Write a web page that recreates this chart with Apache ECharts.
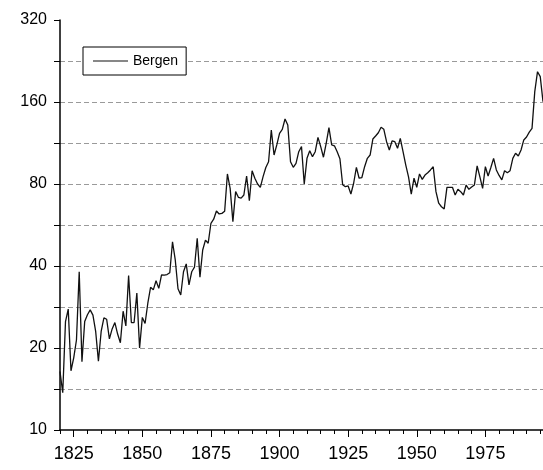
<!DOCTYPE html>
<html>
<head>
<meta charset="utf-8">
<title>Bergen</title>
<script src="https://cdn.jsdelivr.net/npm/echarts@6/dist/echarts.min.js"></script>
<style>
  html, body { margin: 0; padding: 0; background: #fff; }
  #chart { width: 543px; height: 470px; }
</style>
</head>
<body>
<div id="chart"></div>
<script>
// data, one value per year from 1820
var firstYear = 1820
var lastYear = 1996
var bergen = [
  16.4, 13.7, 25.0, 27.8, 16.5, 18.4, 21.4, 38.1, 17.8, 25.0,
  26.5, 27.6, 26.4, 23.0, 17.9, 23.0, 25.8, 25.5, 21.6, 23.5,
  24.8, 22.5, 20.9, 27.3, 24.1, 36.9, 24.8, 24.8, 31.8, 20.0,
  25.9, 24.6, 29.2, 33.4, 32.7, 35.3, 33.1, 37.1, 37.0, 37.2,
  37.8, 49.1, 42.1, 33.0, 31.3, 38.1, 40.7, 34.1, 38.1, 39.6,
  50.6, 36.4, 45.8, 49.8, 48.5, 57.4, 59.4, 63.7, 62.1, 62.4,
  63.5, 87.1, 77.1, 58.2, 75.0, 71.5, 71.0, 72.9, 85.6, 69.5,
  89.5, 84.0, 80.0, 77.8, 85.1, 92.0, 96.6, 126.3, 102.2, 111.3,
  122.8, 127.0, 138.6, 131.7, 96.6, 92.1, 95.3, 105.1, 109.7, 80.0,
  99.4, 106.0, 100.8, 105.1, 118.7, 109.7, 100.3, 112.8, 128.8, 111.3,
  110.5, 105.0, 99.0, 79.5, 78.2, 78.7, 73.5, 80.5, 92.1, 84.0,
  84.5, 92.6, 99.4, 102.2, 117.0, 120.0, 123.4, 129.2, 127.0, 114.4,
  106.6, 115.1, 114.4, 108.2, 117.7, 105.1, 93.9, 85.0, 73.5, 84.0,
  77.8, 87.1, 83.2, 86.3, 88.0, 90.1, 92.6, 75.0, 68.0, 66.0,
  64.8, 77.8, 77.8, 77.8, 72.9, 76.5, 75.0, 72.9, 79.3, 76.5,
  78.0, 79.3, 93.2, 85.0, 77.1, 92.6, 85.6, 92.0, 99.4, 90.1,
  86.0, 82.8, 89.5, 88.0, 89.5, 99.4, 103.7, 101.3, 106.6, 116.1,
  119.0, 124.0, 128.0, 174.6, 206.7, 198.2, 160.5
]
var yTickLabels = [10, 20, 40, 80, 160, 320]
var xTickLabels = [1825, 1850, 1875, 1900, 1925, 1950, 1975]

var years = []
for (var y = firstYear; y <= lastYear; y++) {
  years.push(String(y))
}

// y axis is log base 2 starting at 10: plot log2(v / 10)
var logData = bergen.map(function (v) { return Math.log2(v / 10) })

var font = 'Liberation Sans, Arial, Helvetica, sans-serif'

function isMajor(i, val) {
  return xTickLabels.indexOf(Number(val)) >= 0
}

var myChart = echarts.init(document.getElementById('chart'))
var option = {
  animation: false,
  backgroundColor: '#fff',
  grid: { left: 60, right: 0, top: 20, bottom: 40 },
  legend: {
    left: 83,
    top: 47,
    data: [{ name: 'Bergen', icon: 'rect' }],
    itemWidth: 35,
    itemHeight: 1,
    padding: [7, 8, 7, 10],
    borderColor: '#000',
    borderWidth: 1,
    backgroundColor: '#fff',
    textStyle: { fontFamily: font, fontSize: 14, color: '#000' }
  },
  xAxis: [
    {
      type: 'category',
      data: years,
      boundaryGap: false,
      axisLine: { lineStyle: { color: '#000', width: 1.5 } },
      axisTick: {
        length: 4,
        interval: function (i, val) { return Number(val) % 5 === 0 },
        lineStyle: { color: '#000', width: 1 }
      },
      axisLabel: { show: false },
      splitLine: { show: false }
    },
    {
      type: 'category',
      data: years,
      boundaryGap: false,
      position: 'bottom',
      axisLine: { show: false },
      axisTick: {
        length: 7,
        interval: isMajor,
        lineStyle: { color: '#000', width: 1 }
      },
      axisLabel: {
        interval: isMajor,
        margin: 15,
        fontFamily: font,
        fontSize: 18,
        color: '#000'
      },
      splitLine: { show: false }
    }
  ],
  yAxis: {
    type: 'value',
    min: 0,
    max: 5,
    interval: 0.5,
    axisLine: { show: true, lineStyle: { color: '#000', width: 1.5 } },
    axisTick: { show: true, length: 6, lineStyle: { color: '#000', width: 1 } },
    axisLabel: {
      margin: 13,
      fontFamily: font,
      fontSize: 16,
      color: '#000',
      formatter: function (v) {
        return Number.isInteger(v) ? String(yTickLabels[v]) : ''
      }
    },
    splitLine: {
      show: true,
      showMinLine: false,
      showMaxLine: false,
      lineStyle: { color: '#9a9a9a', type: [5, 3], width: 1 }
    }
  },
  series: [{
    name: 'Bergen',
    type: 'line',
    xAxisIndex: 0,
    data: logData,
    symbol: 'none',
    lineStyle: { color: '#111', width: 1.3 },
    itemStyle: { color: '#111' }
  }]
}
myChart.setOption(option)
</script>
</body>
</html>
